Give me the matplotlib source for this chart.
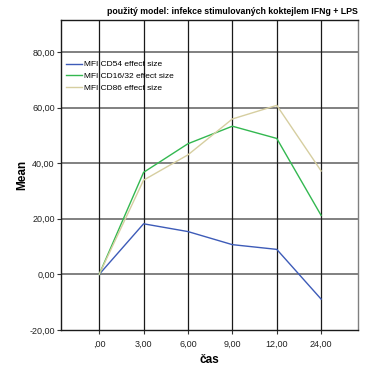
import matplotlib
matplotlib.use("Agg")
import matplotlib.pyplot as plt

plt.rcParams['font.family'] = ['Liberation Sans', 'DejaVu Sans']

categories = [",00", "3,00", "6,00", "9,00", "12,00", "24,00"]
cd54 = [0.0, 18.2, 15.4, 10.7, 9.0, -8.9]
cd16_32 = [0.0, 36.7, 47.0, 53.3, 48.9, 21.2]
cd86 = [0.0, 33.9, 43.0, 55.9, 60.8, 37.2]
series_names = ["MFI CD54 effect size", "MFI CD16/32 effect size", "MFI CD86 effect size"]
yticks = [-20, 0, 20, 40, 60, 80]

fig = plt.figure(figsize=(3.71, 3.69), dpi=100)
ax = fig.add_axes([61/371, 1 - 330/369, (358-61)/371, (330-20)/369])

x = list(range(len(categories)))
ax.set_xlim(-0.86, 5.83)
ax.set_ylim(-20, 91.5)

# grid: gray horizontals, black verticals
for v in yticks[1:]:
    ax.axhline(v, color="#808080", lw=1.4, zorder=1)
for xi in x:
    ax.axvline(xi, color="#1a1a1a", lw=0.9, zorder=1)

ax.plot(x, cd54, color="#3d5bb8", lw=1.0, label=series_names[0], zorder=3)
ax.plot(x, cd16_32, color="#33b850", lw=1.0, label=series_names[1], zorder=3)
ax.plot(x, cd86, color="#d6cea0", lw=1.0, label=series_names[2], zorder=3)

ax.set_xticks(x)
ax.set_xticklabels(categories)
ax.set_yticks(yticks)
ax.set_yticklabels([f"{v:.2f}".replace(".", ",") for v in yticks])
ax.tick_params(axis="both", labelsize=6.5, length=3, width=0.8, color="#333333", pad=1.5, labelcolor="#222222")
ax.tick_params(axis="x", pad=4)

for side in ["left", "bottom", "top"]:
    ax.spines[side].set_color("#1a1a1a")
    ax.spines[side].set_linewidth(1.0)
ax.spines["right"].set_color("#808080")
ax.spines["right"].set_linewidth(1.0)

ax.set_xlabel("čas", fontsize=8.5, fontweight="bold", labelpad=4)
ax.set_ylabel("Mean", fontsize=8.5, fontweight="bold", labelpad=1)

leg = ax.legend(loc="upper left", bbox_to_anchor=(0.0, 0.885), frameon=False, fontsize=6,
                handlelength=1.9, handletextpad=0.3, labelspacing=0.45, borderaxespad=0.2)

fig.text(358/371, 1 - 11/369, "použitý model: infekce stimulovaných koktejlem IFNg + LPS",
         ha="right", va="center", fontsize=6.3, fontweight="bold")

fig.savefig("out.png", dpi=100)
